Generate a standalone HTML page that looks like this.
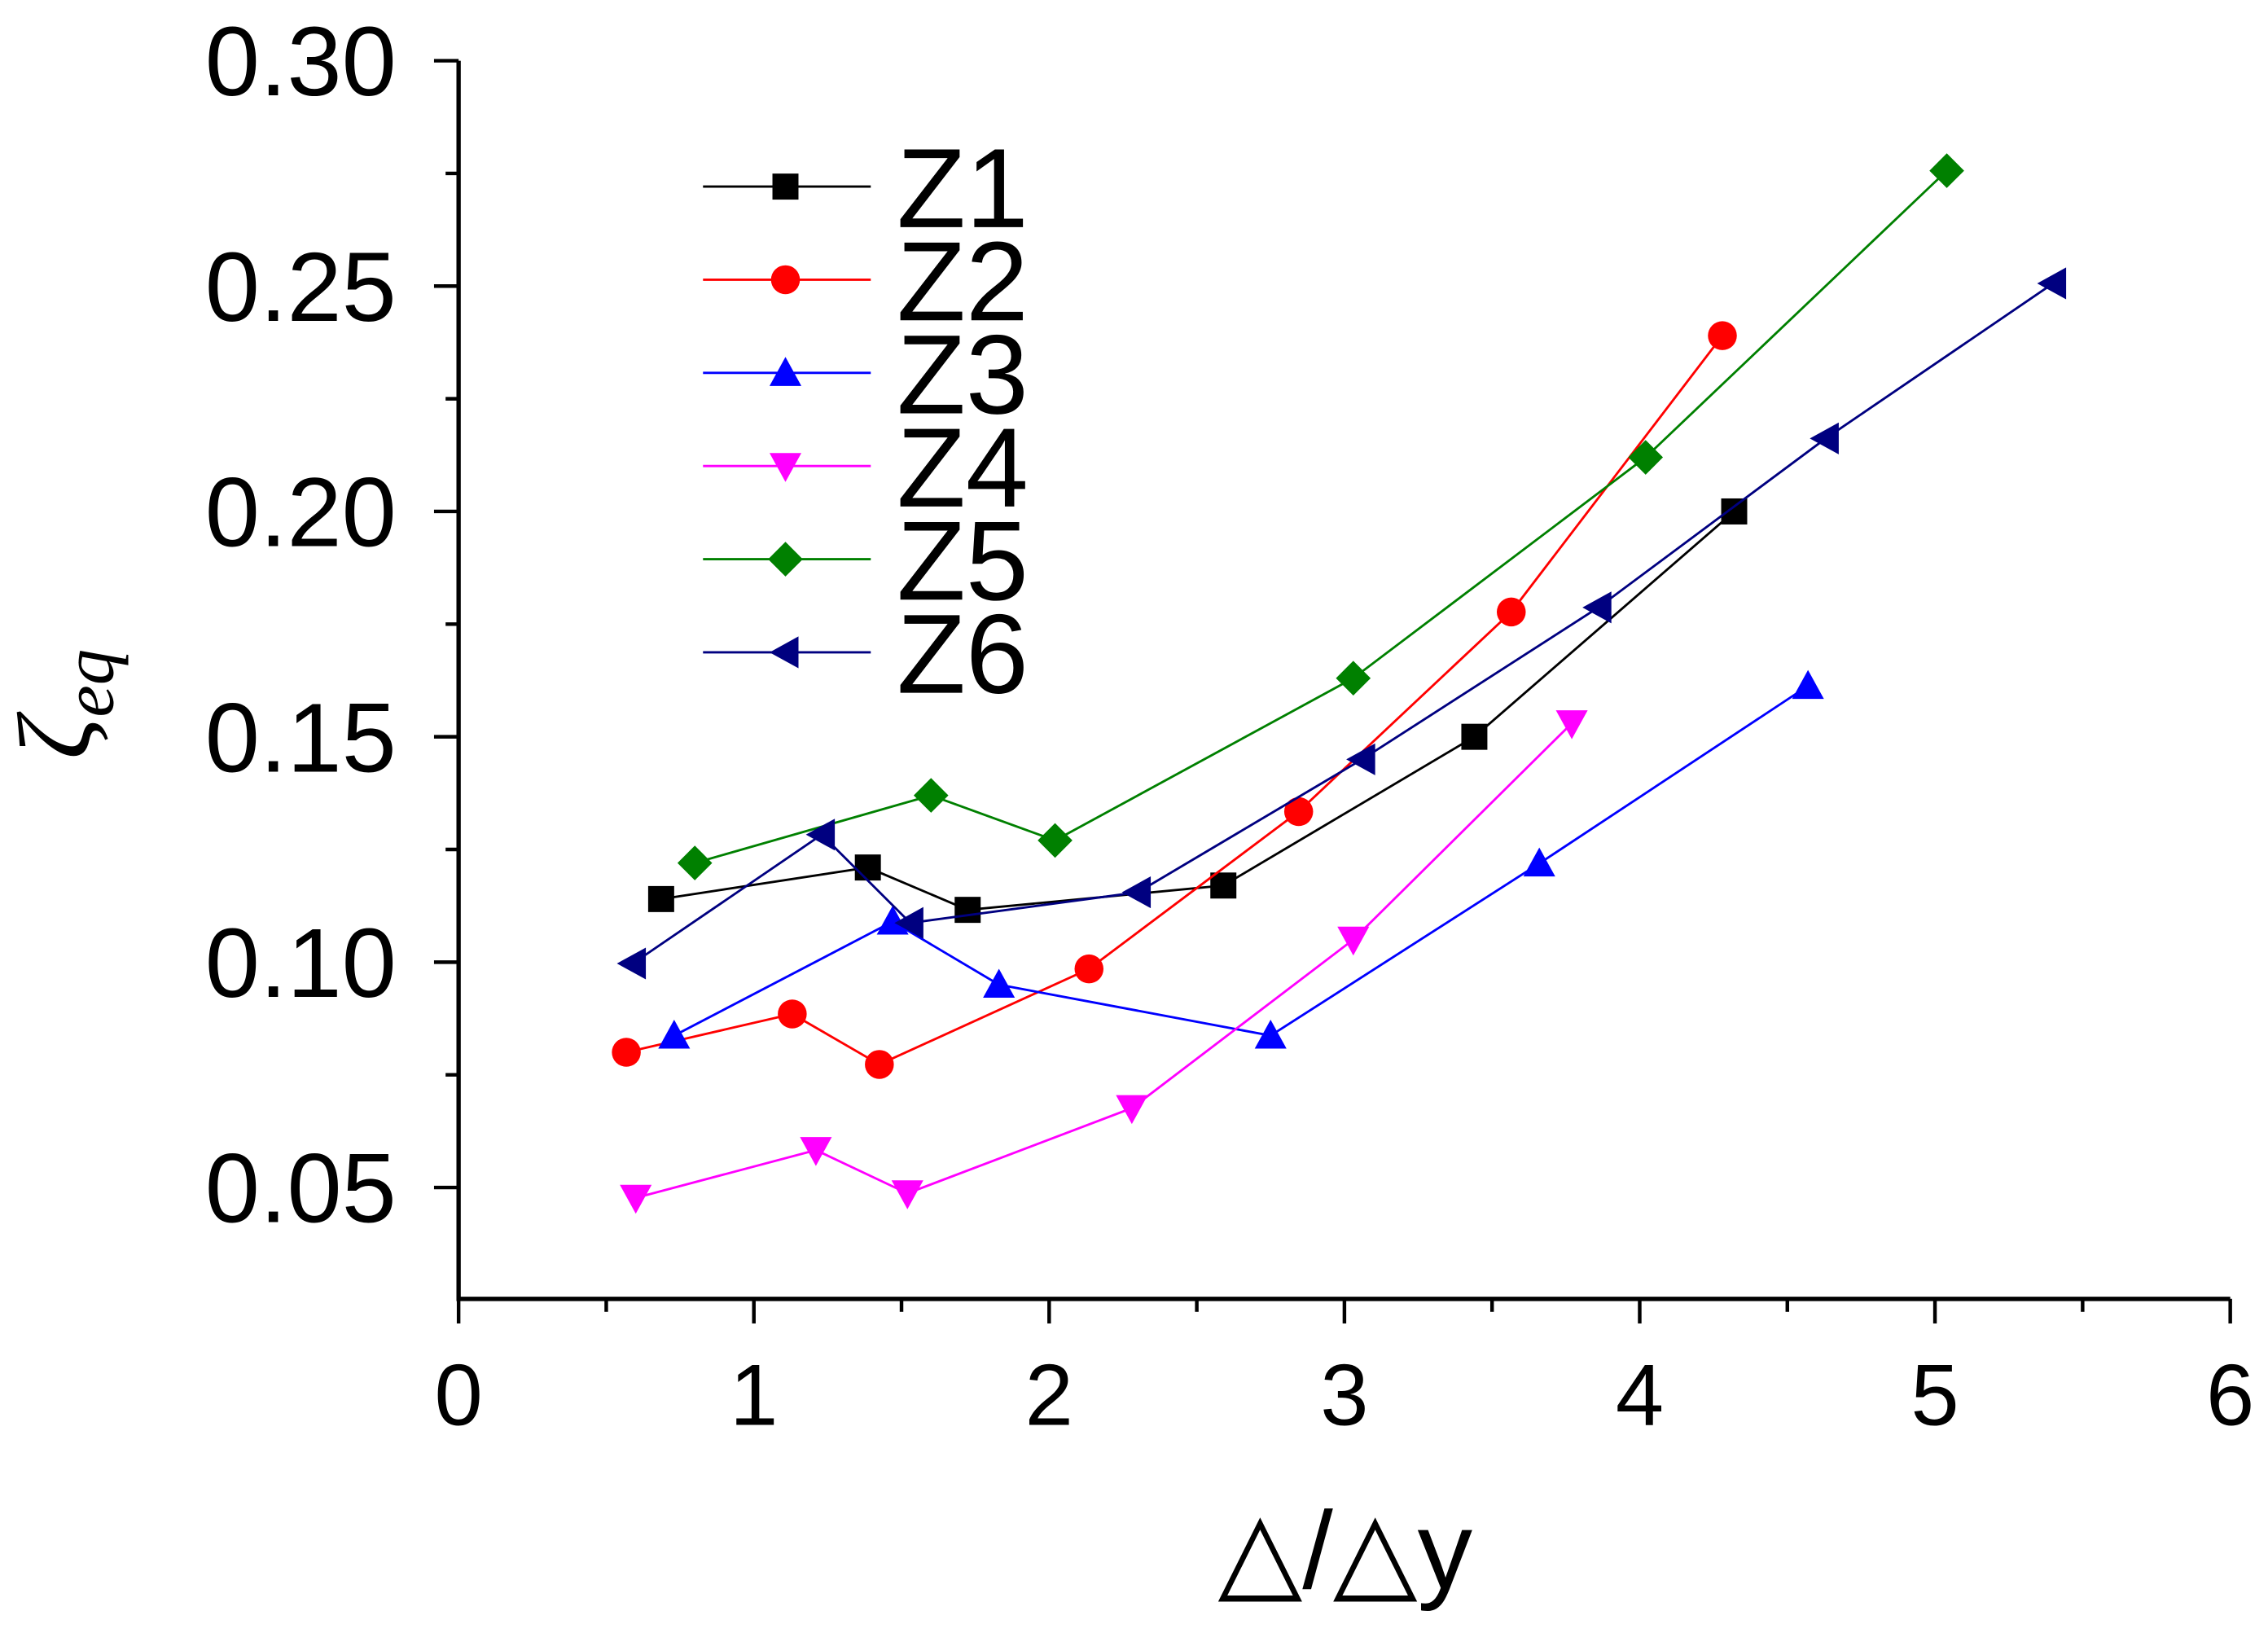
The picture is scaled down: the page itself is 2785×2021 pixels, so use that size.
<!DOCTYPE html>
<html><head><meta charset="utf-8"><style>html,body{margin:0;padding:0;background:#fff}svg{display:block}</style></head>
<body>
<svg id="chart" width="2785" height="2021" viewBox="0 0 1568 1138" xmlns="http://www.w3.org/2000/svg" font-family="'Liberation Sans', sans-serif"></svg>
<script>
const seriesNames = ["Z1","Z2","Z3","Z4","Z5","Z6"];
const colors = ["#000000","#ff0000","#0000ff","#ff00ff","#008000","#000080"];
const markers = ["square","circle","up","down","diamond","left"];
const z1x=[0.686,1.386,1.724,2.59,3.44,4.32];
const z1y=[0.114,0.121,0.1116,0.117,0.150,0.200];
const z2x=[0.568,1.13,1.425,2.135,2.845,3.565,4.28];
const z2y=[0.080,0.0885,0.0773,0.0985,0.1334,0.1777,0.239];
const z3x=[0.73,1.47,1.83,2.75,3.66,4.57];
const z3y=[0.0837,0.109,0.095,0.0837,0.1219,0.1613];
const z4x=[0.60,1.21,1.52,2.28,3.03,3.77];
const z4y=[0.0477,0.0583,0.0487,0.0676,0.105,0.153];
const z5x=[0.80,1.60,2.02,3.03,4.02,5.04];
const z5y=[0.122,0.137,0.127,0.163,0.212,0.2756];
const z6x=[0.59,1.23,1.53,2.30,3.06,3.86,4.63,5.40];
const z6y=[0.0997,0.1283,0.1087,0.1155,0.145,0.1787,0.2162,0.2506];
const xTicks=[0,1,2,3,4,5,6];
const yTicks=["0.05","0.10","0.15","0.20","0.25","0.30"];
const allX=[z1x,z2x,z3x,z4x,z5x,z6x], allY=[z1y,z2y,z3y,z4y,z5y,z6y];

const X0=317,X1=1542,YB=898;
const xs=v=>X0+(X1-X0)*v/6;
const ys=v=>821-(v-0.05)/0.05*155.8;
const svg=document.getElementById('chart');
const NS="http://www.w3.org/2000/svg";
function mk(tag,attrs,parent){const e=document.createElementNS(NS,tag);for(const k in attrs)e.setAttribute(k,attrs[k]);(parent||svg).appendChild(e);return e;}

let ax=mk('path',{d:`M${X0},${ys(0.30)} L${X0},${YB} L${X1},${YB}`,fill:'none',stroke:'#000','stroke-width':3});


for(let v=0.05;v<=0.3001;v+=0.025){const maj=Math.abs(Math.round(v/0.05)*0.05-v)<1e-6;
 const t=mk('line',{x1:X0,x2:X0-(maj?17:9),y1:ys(v),y2:ys(v),stroke:'#000','stroke-width':2.5});
 
 }
yTicks.forEach(s=>{const t=mk('text',{x:274,y:ys(+s)+24,'text-anchor':'end','font-size':68});t.textContent=s;
 
 });
for(let v=0;v<=6.001;v+=0.5){const maj=Math.abs(Math.round(v)-v)<1e-6;
 const t=mk('line',{x1:xs(v),x2:xs(v),y1:YB,y2:YB+(maj?17:9),stroke:'#000','stroke-width':2.5});
 
 }
xTicks.forEach(v=>{const t=mk('text',{x:xs(v),y:985,'text-anchor':'middle','font-size':60});t.textContent=v;
 
 });
let xt=mk('text',{x:930,y:1098,'text-anchor':'middle','font-size':76});xt.textContent='△/△y';


let yt=mk('text',{transform:'translate(62,525) rotate(-90)','font-size':72,'font-style':'italic','font-family':"'Liberation Serif', serif"});
yt.innerHTML='ζ<tspan font-size="50" dy="16">eq</tspan>';



function marker(type,x,y,c,g){const r=9;let d;
 if(type==='square')return mk('rect',{x:x-r,y:y-r,width:2*r,height:2*r,fill:c},g);
 if(type==='circle')return mk('circle',{cx:x,cy:y,r:r+1,fill:c},g);
 if(type==='up')d=`M${x},${y-r-2} L${x+r+2},${y+r} L${x-r-2},${y+r}Z`;
 if(type==='down')d=`M${x},${y+r+2} L${x+r+2},${y-r} L${x-r-2},${y-r}Z`;
 if(type==='diamond')d=`M${x},${y-r-3} L${x+r+3},${y} L${x},${y+r+3} L${x-r-3},${y}Z`;
 if(type==='left')d=`M${x-r-2},${y} L${x+r},${y-r-2} L${x+r},${y+r+2}Z`;
 return mk('path',{d,fill:c},g);}

seriesNames.forEach((n,i)=>{
 const g=mk('g',{});
 
 
 const pts=allX[i].map((v,j)=>xs(v)+','+ys(allY[i][j])).join(' ');
 const l=mk('polyline',{points:pts,fill:'none',stroke:colors[i],'stroke-width':1.6},g);
 
 
 allX[i].forEach((v,j)=>{const m=marker(markers[i],xs(v),ys(allY[i][j]),colors[i],g);
  
  });
 const ly=129+i*64.4;
 const lg=mk('g',{});
 
 
 mk('line',{x1:486,x2:602,y1:ly,y2:ly,stroke:colors[i],'stroke-width':1.6},lg);
 marker(markers[i],543,ly,colors[i],lg);
 const t=mk('text',{x:620,y:ly+28,'font-size':78},lg);t.textContent=n;
});
</script>
</body></html>
